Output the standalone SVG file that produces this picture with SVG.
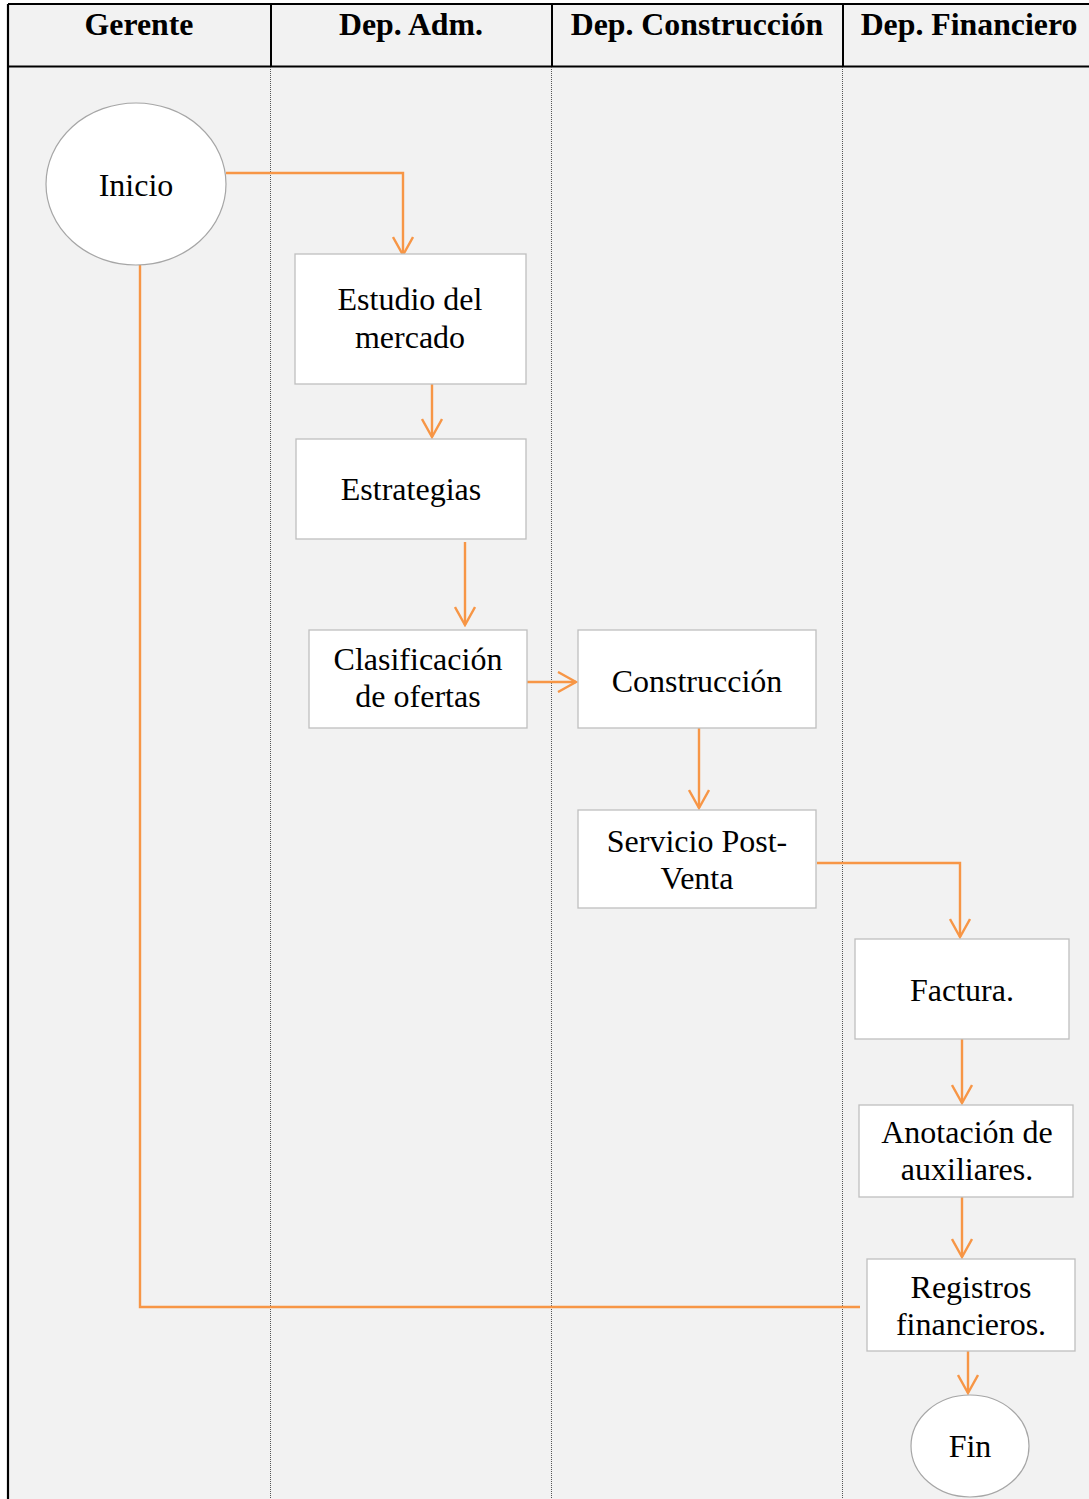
<svg xmlns="http://www.w3.org/2000/svg" width="1089" height="1499" viewBox="0 0 1089 1499">
<defs>
<style>
.hdr{font-family:"Liberation Serif","Times New Roman",serif;font-weight:bold;font-size:31.8px;fill:#000;text-anchor:middle}
.lbl{font-family:"Liberation Serif","Times New Roman",serif;font-size:32px;fill:#000;text-anchor:middle}
.box{fill:#fff;stroke:#bfbfbf;stroke-width:1.3}
.ell{fill:#fff;stroke:#a6a6a6;stroke-width:1.2}
.con{fill:none;stroke:#f79646;stroke-width:2.4}
.sep{stroke:#555;stroke-width:1;stroke-dasharray:1 1}
</style>
<marker id="arr" viewBox="0 0 22 22" refX="20" refY="11" markerWidth="22" markerHeight="22" markerUnits="userSpaceOnUse" orient="auto">
<path d="M2,1 L20,11 L2,21" fill="none" stroke="#f79646" stroke-width="2.4"/>
</marker>
</defs>
<rect x="0" y="0" width="1089" height="1499" fill="#fff"/>
<rect x="8" y="4" width="1081" height="1495" fill="#f2f2f2"/>
<g id="lanes">
<line x1="8" y1="4" x2="1089" y2="4" stroke="#000" stroke-width="2"/>
<line x1="8" y1="66.5" x2="1089" y2="66.5" stroke="#000" stroke-width="2"/>
<line x1="8" y1="4" x2="8" y2="1499" stroke="#000" stroke-width="2.2"/>
<line x1="271" y1="4" x2="271" y2="67" stroke="#000" stroke-width="2"/>
<line x1="552" y1="4" x2="552" y2="67" stroke="#000" stroke-width="2"/>
<line x1="843" y1="4" x2="843" y2="67" stroke="#000" stroke-width="2"/>
<line class="sep" x1="270.5" y1="67" x2="270.5" y2="1499"/>
<line class="sep" x1="551.5" y1="67" x2="551.5" y2="1499"/>
<line class="sep" x1="842.5" y1="67" x2="842.5" y2="1499"/>
<text class="hdr" x="139" y="35">Gerente</text>
<text class="hdr" x="411" y="35">Dep. Adm.</text>
<text class="hdr" x="697" y="35">Dep. Construcción</text>
<text class="hdr" x="969" y="35">Dep. Financiero</text>
</g>
<g id="connectors">
<path class="con" d="M226,173 H403 V255" marker-end="url(#arr)"/>
<path class="con" d="M140,265 V1307 H860"/>
<path class="con" d="M432,384 V437" marker-end="url(#arr)"/>
<path class="con" d="M465,542 V625" marker-end="url(#arr)"/>
<path class="con" d="M525,682 H576" marker-end="url(#arr)"/>
<path class="con" d="M699,728 V808" marker-end="url(#arr)"/>
<path class="con" d="M817,863 H960 V937" marker-end="url(#arr)"/>
<path class="con" d="M962,1039 V1103" marker-end="url(#arr)"/>
<path class="con" d="M962,1197 V1257" marker-end="url(#arr)"/>
<path class="con" d="M968,1348 V1393" marker-end="url(#arr)"/>
</g>
<g id="inicio">
<ellipse class="ell" cx="136" cy="184" rx="90" ry="81"/>
<text class="lbl" x="136" y="196">Inicio</text>
</g>
<g id="estudio">
<rect class="box" x="295" y="254" width="231" height="130"/>
<text class="lbl" x="410" y="310">Estudio del</text>
<text class="lbl" x="410" y="348">mercado</text>
</g>
<g id="estrategias">
<rect class="box" x="296" y="439" width="230" height="100"/>
<text class="lbl" x="411" y="500">Estrategias</text>
</g>
<g id="clasificacion">
<rect class="box" x="309" y="630" width="218" height="98"/>
<text class="lbl" x="418" y="670">Clasificación</text>
<text class="lbl" x="418" y="707">de ofertas</text>
</g>
<g id="construccion">
<rect class="box" x="578" y="630" width="238" height="98"/>
<text class="lbl" x="697" y="692">Construcción</text>
</g>
<g id="servicio">
<rect class="box" x="578" y="810" width="238" height="98"/>
<text class="lbl" x="697" y="852">Servicio Post-</text>
<text class="lbl" x="697" y="889">Venta</text>
</g>
<g id="factura">
<rect class="box" x="855" y="939" width="214" height="100"/>
<text class="lbl" x="962" y="1001">Factura.</text>
</g>
<g id="anotacion">
<rect class="box" x="859" y="1105" width="214" height="92"/>
<text class="lbl" x="967" y="1143">Anotación de</text>
<text class="lbl" x="967" y="1180">auxiliares.</text>
</g>
<g id="registros">
<rect class="box" x="867" y="1259" width="208" height="92"/>
<text class="lbl" x="971" y="1298">Registros</text>
<text class="lbl" x="971" y="1335">financieros.</text>
</g>
<g id="fin">
<ellipse class="ell" cx="970" cy="1446" rx="59" ry="51"/>
<text class="lbl" x="970" y="1457">Fin</text>
</g>
</svg>
